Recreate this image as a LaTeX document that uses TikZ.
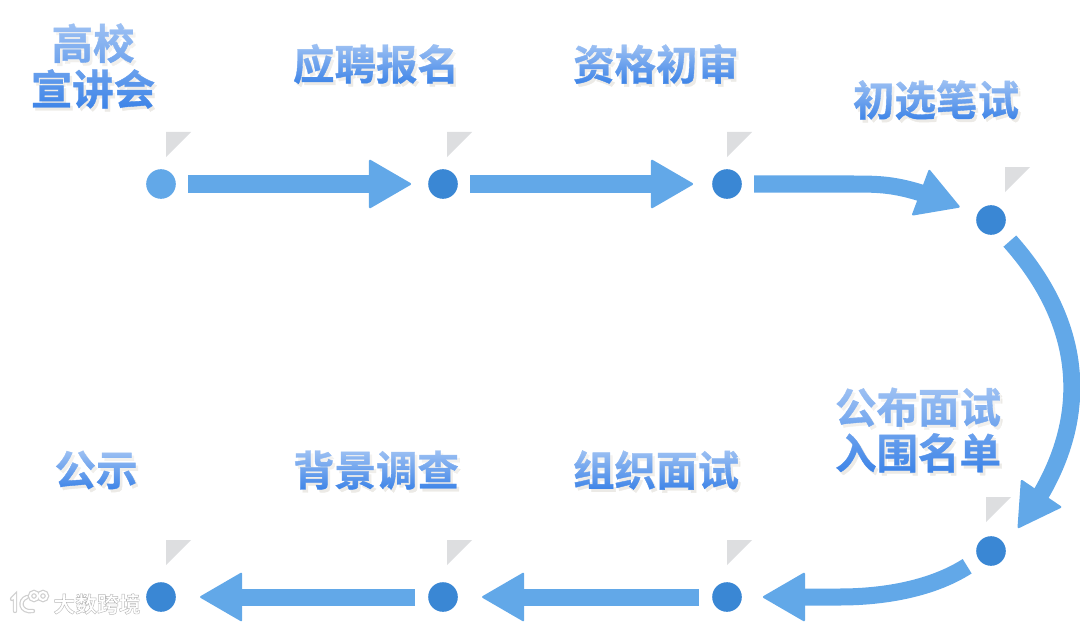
\documentclass[tikz,border=0pt]{standalone}
\usepackage{fontspec}
\newfontfamily\cjkfont{Noto Sans CJK SC Bold}
\newfontfamily\cjkheavy[FakeBold=0.9]{Noto Sans CJK SC Bold}
\usetikzlibrary{arrows.meta, bending, fadings}
\definecolor{arrowblue}{HTML}{62A8E8}
\definecolor{dotblue}{HTML}{3A87D4}
\definecolor{labelblue}{HTML}{3D84E8}
\definecolor{markgray}{HTML}{DDDEE0}
\definecolor{shadowgray}{HTML}{ECEAE6}
\definecolor{halogray}{HTML}{CFCFCF}
\newcommand{\halotext}[1]{\special{pdf:code 2 Tr 0.3 w 0.72 G}#1\special{pdf:code 0 Tr 1 w}}
\tikzset{
  stepdot/.style = {circle, fill=dotblue, minimum size=0.74cm, inner sep=0pt},
  startdot/.style = {stepdot, fill=arrowblue},
  flag/.style = {fill=markgray},
  label/.style = {font=\cjkheavy\fontsize{29.5}{32.5}\selectfont, text=labelblue, align=center, inner sep=0pt},
  labelshadow/.style = {label, text=shadowgray},
  glow/.style = {white, fill opacity=0.5, path fading=south},
  arrow/.style = {arrowblue, line width=0.425cm, -{Triangle[length=1.08cm, width=1.24cm, round, line width=1.5pt]}},
  markline/.style = {halogray, line width=0.11cm, line cap=round},
  markcore/.style = {white, line width=0.05cm, line cap=round}
}
\begin{document}
\begin{tikzpicture}[x=0.025cm, y=-0.025cm]
    \useasboundingbox (0,0) rectangle (1080,624);

    % Dots
    \node[startdot] (gaoxiao) at (161,184) {};
    \node[stepdot] (baoming) at (443,184) {};
    \node[stepdot] (chushen) at (727,184) {};
    \node[stepdot] (bishi) at (991,220) {};
    \node[stepdot] (mingdan) at (991,551) {};
    \node[stepdot] (mianshi) at (727,597) {};
    \node[stepdot] (diaocha) at (443,597) {};
    \node[stepdot] (gongshi) at (161,597) {};

    % Grey flags above the dots
    \foreach \fx/\fy in {166/132, 447/132, 727/132, 1005/167, 986/497, 166/540, 447/540, 727/540}
      \fill[flag] (\fx,\fy) -- ++(25,0) -- ++(-25,25) -- cycle;

    % Labels: shadow, text, then a white veil that lightens the top
    \foreach \lname/\lx/\ly/\ltext in {
        tgaoxiao/93/66/{高校\\宣讲会},
        tbaoming/376/64/{应聘报名},
        tchushen/656/64/{资格初审},
        tbishi/936/100/{初选笔试},
        tmingdan/918/430/{公布面试\\入围名单},
        tgongshi/96/470/{公示},
        tdiaocha/376/470/{背景调查},
        tmianshi/656/470/{组织面试}} {
      \node[labelshadow] (\lname s) at (\lx+2.5,\ly+3) {\ltext};
      \node[label] (\lname) at (\lx,\ly) {\ltext};
      \fill[glow] (\lname.north west) rectangle (\lname.south east);
    }

    % Arrows top row
    \draw[arrow, shorten <=0.3cm, shorten >=0.42cm] (gaoxiao) -- (baoming);
    \draw[arrow, shorten <=0.3cm, shorten >=0.47cm] (baoming) -- (chushen);
    \coordinate (topbend) at (850,184);
    \draw[arrow, shorten <=0.3cm, shorten >=0.47cm] (chushen) -- (topbend) .. controls (890,184) and (905,184) .. (bishi);

    % Big arc on the right
    \coordinate (arcend) at (1018,528);
    \draw[arrow, shorten <=0.33cm] (bishi) .. controls (1090,331) and (1093,431) .. (arcend);

    % Arrows bottom row
    \coordinate (lowbend) at (840,597);
    \draw[arrow, shorten <=0.33cm, shorten >=0.52cm] (mingdan) .. controls (930,590) and (880,597) .. (lowbend) -- (mianshi);
    \draw[arrow, shorten <=0.33cm, shorten >=0.6cm] (mianshi) -- (diaocha);
    \draw[arrow, shorten <=0.33cm, shorten >=0.6cm] (diaocha) -- (gongshi);

    % Watermark in the corner
    \foreach \mstyle in {markline, markcore} {
      \draw[\mstyle] (12,599) -- (15,596) -- (15,611);
      \draw[\mstyle] (27,597) .. controls (18,600) and (20,613) .. (33,611);
      \draw[\mstyle] (34,596) circle (4);
      \draw[\mstyle] (43,596) circle (4);
    }
    \node[font=\cjkfont\fontsize{15.5}{18}\selectfont, text=white, inner sep=0pt] (marktext) at (97,604) {\halotext{大数跨境}};

\end{tikzpicture}
\end{document}
